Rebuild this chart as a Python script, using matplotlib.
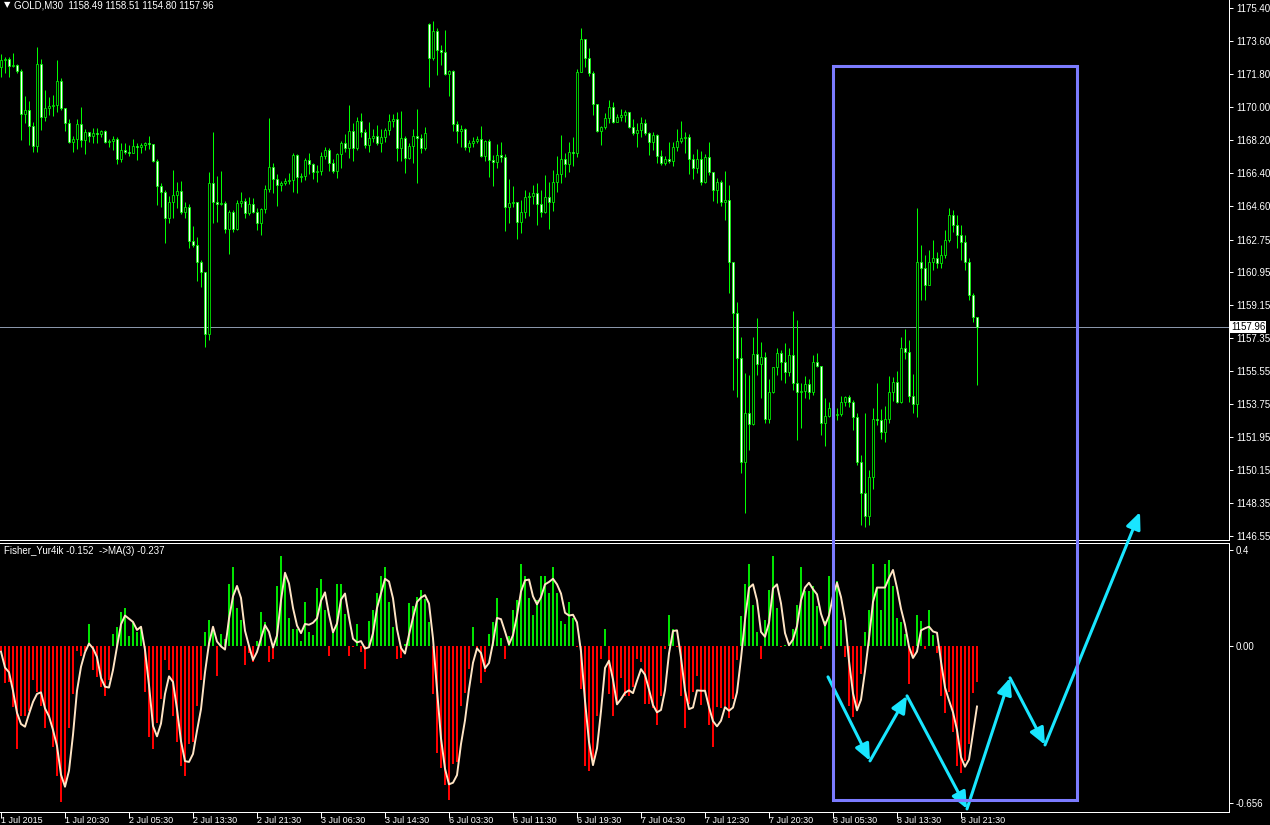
import matplotlib
matplotlib.use('Agg')
import matplotlib.pyplot as plt
from matplotlib.patches import Rectangle
import numpy as np
import pandas as pd

# GOLD M30 candles, 1 Jul 2015 .. 8 Jul 2015 (one value per bar)
closes = [
    1172.56, 1172.62, 1172.23, 1172.29, 1171.96, 1169.61, 1169.83, 1168.96, 1167.86, 1172.34,
    1169.45, 1169.94, 1170.05, 1170.10, 1171.41, 1169.94, 1169.12, 1168.08, 1168.25, 1169.06,
    1168.19, 1168.63, 1168.41, 1168.57, 1168.52, 1168.68, 1168.08, 1168.14, 1168.25, 1167.15,
    1167.64, 1167.53, 1167.48, 1167.86, 1167.81, 1167.92, 1168.03, 1167.97, 1167.04, 1165.68,
    1165.35, 1163.93, 1164.80, 1165.19, 1165.40, 1164.26, 1164.53, 1162.67, 1162.45, 1161.52,
    1160.98, 1157.59, 1165.84, 1164.80, 1164.69, 1164.75, 1163.33, 1164.26, 1163.33, 1164.75,
    1164.86, 1164.20, 1164.69, 1164.26, 1163.66, 1164.42, 1165.51, 1166.72, 1166.06, 1165.73,
    1165.84, 1165.95, 1166.00, 1167.37, 1166.17, 1166.22, 1167.10, 1166.88, 1166.44, 1166.50,
    1167.32, 1167.64, 1166.93, 1166.50, 1167.43, 1168.03, 1167.75, 1168.68, 1167.75, 1169.23,
    1168.63, 1167.92, 1168.30, 1168.41, 1168.03, 1168.35, 1168.74, 1169.23, 1169.34, 1167.75,
    1168.30, 1167.21, 1167.86, 1168.41, 1168.30, 1167.75, 1168.57, 1172.67, 1174.15, 1173.11,
    1173.00, 1171.80, 1171.96, 1169.06, 1168.68, 1168.79, 1167.81, 1168.03, 1168.14, 1168.25,
    1167.32, 1168.14, 1167.10, 1166.99, 1167.37, 1167.26, 1164.53, 1164.75, 1164.80, 1163.71,
    1164.26, 1165.08, 1165.13, 1165.29, 1164.69, 1164.26, 1165.08, 1164.80, 1165.90, 1166.33,
    1167.15, 1166.88, 1167.53, 1167.48, 1171.91, 1173.71, 1172.67, 1171.85, 1170.16, 1168.68,
    1168.90, 1169.39, 1169.99, 1169.17, 1169.45, 1169.56, 1169.72, 1168.90, 1168.57, 1168.74,
    1169.12, 1168.57, 1168.08, 1168.46, 1167.32, 1166.93, 1167.15, 1167.04, 1167.81, 1168.14,
    1168.30, 1168.35, 1167.15, 1166.66, 1167.15, 1165.90, 1167.26, 1166.44, 1165.46, 1165.90,
    1164.80, 1164.91, 1161.52, 1158.74, 1156.28, 1150.60, 1153.27, 1152.67, 1156.50, 1155.95,
    1156.33, 1152.95, 1154.42, 1155.79, 1156.55, 1156.06, 1155.51, 1156.44, 1154.91, 1154.42,
    1154.48, 1154.86, 1154.42, 1156.06, 1155.84, 1152.73, 1153.11, 1153.55, 1153.16, 1153.22,
    1153.88, 1154.15, 1153.88, 1153.06, 1150.60, 1148.90, 1147.65, 1149.78, 1152.95, 1152.89,
    1152.24, 1152.95, 1154.42, 1154.97, 1153.88, 1156.83, 1156.61, 1154.20, 1153.77, 1161.52,
    1161.20, 1160.27, 1161.52, 1161.74, 1161.47, 1161.91, 1162.73, 1164.09, 1163.55, 1163.00,
    1162.62, 1161.52, 1159.72, 1158.49, 1157.96]

highs = [
    1172.89, 1172.73, 1172.73, 1172.94, 1172.34, 1172.07, 1170.59, 1170.32, 1169.17, 1173.27,
    1172.62, 1170.92, 1170.54, 1170.65, 1172.56, 1171.58, 1169.94, 1169.34, 1168.41, 1169.34,
    1169.99, 1168.79, 1168.63, 1168.85, 1168.85, 1168.74, 1168.74, 1168.25, 1168.41, 1168.35,
    1168.03, 1168.03, 1167.92, 1168.25, 1168.03, 1168.03, 1168.08, 1168.41, 1167.92, 1167.15,
    1165.84, 1165.46, 1165.13, 1166.55, 1165.90, 1165.95, 1164.80, 1164.69, 1163.49, 1162.89,
    1161.63, 1160.92, 1166.44, 1168.63, 1166.22, 1166.50, 1164.86, 1164.37, 1164.37, 1164.91,
    1165.35, 1165.02, 1165.08, 1165.02, 1164.48, 1164.48, 1165.73, 1169.39, 1166.93, 1166.33,
    1165.95, 1166.11, 1166.39, 1167.48, 1167.43, 1166.39, 1167.21, 1167.48, 1166.93, 1166.82,
    1167.53, 1167.81, 1167.75, 1167.15, 1167.48, 1168.14, 1168.52, 1170.10, 1169.12, 1169.45,
    1169.67, 1168.79, 1169.17, 1168.79, 1169.01, 1168.79, 1168.85, 1169.61, 1169.61, 1169.72,
    1169.78, 1168.41, 1168.03, 1168.79, 1169.88, 1168.52, 1168.90, 1174.58, 1174.69, 1174.31,
    1173.38, 1174.20, 1172.01, 1172.01, 1169.23, 1169.01, 1168.85, 1168.19, 1168.35, 1168.41,
    1168.96, 1168.19, 1168.25, 1167.37, 1167.97, 1168.08, 1167.43, 1166.06, 1165.68, 1164.80,
    1164.91, 1165.46, 1165.35, 1165.73, 1165.84, 1165.46, 1166.28, 1165.90, 1166.55, 1167.32,
    1168.46, 1167.48, 1168.08, 1168.35, 1172.07, 1174.31, 1173.71, 1173.22, 1171.96, 1170.16,
    1168.96, 1169.67, 1170.38, 1170.27, 1169.61, 1169.88, 1169.83, 1169.34, 1169.34, 1169.12,
    1169.45, 1169.34, 1168.63, 1168.63, 1168.52, 1167.64, 1167.32, 1168.08, 1168.08, 1168.79,
    1169.23, 1168.63, 1168.52, 1167.43, 1167.70, 1167.59, 1167.43, 1168.08, 1166.44, 1166.11,
    1166.00, 1166.50, 1165.73, 1161.52, 1159.34, 1157.43, 1155.46, 1155.35, 1157.43, 1158.46,
    1157.15, 1156.61, 1155.13, 1155.79, 1156.83, 1156.72, 1157.10, 1156.83, 1158.85, 1158.36,
    1154.91, 1155.30, 1155.13, 1156.44, 1156.55, 1155.84, 1154.09, 1153.88, 1153.60, 1153.55,
    1154.20, 1154.20, 1154.26, 1153.98, 1153.27, 1150.98, 1153.27, 1150.16, 1153.55, 1154.91,
    1153.49, 1153.66, 1155.30, 1155.24, 1155.57, 1157.43, 1157.86, 1157.26, 1155.40, 1164.48,
    1162.45, 1161.91, 1162.18, 1162.73, 1162.07, 1162.45, 1163.27, 1164.48, 1164.37, 1164.09,
    1163.55, 1163.00, 1161.74, 1159.85, 1158.51]

lows = [
    1171.63, 1171.85, 1171.63, 1172.18, 1171.85, 1168.19, 1169.12, 1167.92, 1167.53, 1167.53,
    1168.74, 1169.23, 1169.56, 1169.50, 1169.72, 1169.83, 1168.68, 1168.03, 1167.53, 1167.70,
    1167.81, 1167.43, 1168.08, 1168.03, 1168.03, 1168.35, 1168.03, 1167.81, 1167.64, 1166.88,
    1166.99, 1167.43, 1167.32, 1167.48, 1167.10, 1167.48, 1167.64, 1167.70, 1166.99, 1164.64,
    1164.53, 1162.56, 1163.66, 1163.93, 1164.48, 1164.15, 1163.93, 1162.29, 1162.34, 1160.49,
    1160.16, 1156.88, 1157.26, 1163.66, 1163.71, 1164.64, 1163.11, 1161.96, 1163.16, 1163.27,
    1164.53, 1163.93, 1164.09, 1164.20, 1163.27, 1163.00, 1164.20, 1165.35, 1165.29, 1164.58,
    1165.40, 1165.73, 1165.79, 1165.35, 1165.29, 1165.90, 1166.00, 1166.33, 1166.06, 1165.90,
    1166.28, 1167.15, 1166.50, 1166.39, 1166.11, 1166.66, 1167.53, 1167.21, 1167.04, 1167.64,
    1168.35, 1167.75, 1167.53, 1168.08, 1167.92, 1167.53, 1168.08, 1168.46, 1168.90, 1167.04,
    1167.04, 1166.39, 1167.15, 1166.93, 1165.84, 1167.48, 1167.64, 1171.09, 1172.56, 1171.74,
    1172.29, 1171.74, 1170.59, 1168.68, 1168.03, 1167.81, 1167.64, 1167.53, 1167.81, 1168.03,
    1167.26, 1167.04, 1166.17, 1165.68, 1166.66, 1166.99, 1163.22, 1163.66, 1164.53, 1162.78,
    1163.11, 1163.93, 1164.04, 1164.69, 1163.55, 1163.98, 1164.20, 1163.33, 1164.31, 1165.35,
    1165.84, 1166.17, 1166.44, 1166.77, 1167.26, 1171.91, 1172.18, 1171.69, 1169.56, 1168.63,
    1167.92, 1168.79, 1169.12, 1169.12, 1169.23, 1169.23, 1169.17, 1168.85, 1168.46, 1167.81,
    1168.35, 1168.46, 1167.37, 1167.64, 1166.93, 1166.82, 1166.82, 1166.93, 1166.77, 1167.59,
    1168.03, 1167.48, 1166.33, 1166.06, 1166.39, 1165.73, 1165.84, 1166.28, 1164.86, 1164.75,
    1164.58, 1163.82, 1159.83, 1154.53, 1154.15, 1149.99, 1147.81, 1151.25, 1152.62, 1155.35,
    1154.09, 1152.73, 1152.73, 1154.37, 1155.35, 1155.08, 1154.91, 1155.30, 1154.53, 1151.80,
    1152.45, 1154.09, 1154.04, 1154.26, 1155.79, 1152.07, 1151.47, 1153.06, 1153.16, 1152.89,
    1153.11, 1153.66, 1153.60, 1152.34, 1150.43, 1147.15, 1147.05, 1147.15, 1149.12, 1152.62,
    1151.85, 1151.69, 1152.73, 1153.93, 1153.82, 1153.82, 1156.22, 1153.88, 1153.27, 1153.06,
    1159.45, 1159.45, 1160.81, 1161.09, 1161.20, 1161.20, 1161.74, 1162.62, 1163.16, 1162.29,
    1161.63, 1161.09, 1159.45, 1158.24, 1154.80]

first_open = 1172.18
gap_opens = {107: 1174.53}   # Monday open after the weekend gap

# Fisher_Yur4ik histogram
fisher = [
    -0.024, -0.156, -0.149, -0.256, -0.43, -0.29, -0.29, -0.27, -0.14, -0.19,
    -0.25, -0.34, -0.29, -0.42, -0.54, -0.65, -0.57, -0.34, -0.20, -0.02,
    -0.04, -0.02, 0.09, -0.10, -0.13, -0.17, -0.21, -0.14, 0.05, 0.08,
    0.14, 0.16, 0.04, 0.10, 0.06, 0.08, -0.19, -0.38, -0.43, -0.32,
    -0.22, -0.06, -0.10, -0.29, -0.40, -0.50, -0.54, -0.41, -0.40, -0.25,
    -0.14, 0.06, 0.11, 0.07, -0.125, 0.05, 0.03, 0.26, 0.33, 0.16,
    0.11, -0.08, -0.03, -0.065, 0.02, 0.14, 0.10, -0.065, -0.055, 0.25,
    0.375, 0.29, 0.115, 0.07, 0.07, 0.02, 0.185, 0.06, 0.045, 0.24,
    0.28, 0.15, -0.04, 0.06, 0.26, 0.26, 0.135, -0.04, -0.005, 0.09,
    -0.025, -0.097, 0.105, 0.15, 0.22, 0.29, 0.33, 0.185, 0.08, -0.055,
    -0.05, 0.01, 0.18, 0.165, 0.205, 0.235, 0.195, 0.10, -0.20, -0.445,
    -0.51, -0.58, -0.64, -0.49, -0.485, -0.25, -0.195, -0.095, 0.08, -0.015,
    -0.153, -0.11, 0.05, 0.10, 0.20, 0.035, -0.055, 0.04, 0.15, 0.19,
    0.34, 0.29, 0.20, 0.13, 0.19, 0.29, 0.29, 0.22, 0.33, 0.22,
    0.105, 0.09, 0.185, 0.115, -0.005, -0.18, -0.50, -0.52, -0.47, -0.29,
    -0.055, 0.07, -0.20, -0.29, -0.24, -0.135, -0.21, -0.21, -0.17, -0.055,
    -0.065, -0.24, -0.24, -0.26, -0.33, -0.21, -0.014, 0.13, 0.07, -0.005,
    -0.21, -0.34, -0.24, -0.19, -0.125, -0.245, -0.19, -0.33, -0.42, -0.255,
    -0.26, -0.25, -0.30, -0.22, -0.06, 0.125, 0.26, 0.34, 0.17, 0.06,
    -0.055, 0.11, 0.235, 0.375, 0.16, -0.003, 0.004, 0.008, 0.07, 0.17,
    0.33, 0.23, 0.23, 0.25, 0.165, -0.014, 0.105, 0.29, 0.23, 0.27,
    0.11, -0.047, -0.25, -0.295, -0.26, -0.117, 0.06, 0.15, 0.34, 0.24,
    0.15, 0.34, 0.36, 0.25, 0.115, 0.10, 0.05, -0.16, -0.04, 0.13,
    0.105, -0.014, 0.15, 0.045, -0.03, -0.21, -0.28, -0.19, -0.36, -0.50,
    -0.53, -0.48, -0.41, -0.195, -0.152]

price_ticks = [1175.40, 1173.60, 1171.80, 1170.00, 1168.20, 1166.40, 1164.60, 1162.75, 1160.95,
               1159.15, 1157.35, 1155.55, 1153.75, 1151.95, 1150.15, 1148.35, 1146.55]
fisher_ticks = [0.4, 0.0, -0.656]
fisher_tick_labels = ['0.4', '0.00', '-0.656']
time_labels = ['1 Jul 2015', '1 Jul 20:30', '2 Jul 05:30', '2 Jul 13:30', '2 Jul 21:30',
               '3 Jul 06:30', '3 Jul 14:30', '6 Jul 03:30', '6 Jul 11:30', '6 Jul 19:30',
               '7 Jul 04:30', '7 Jul 12:30', '7 Jul 20:30', '8 Jul 05:30', '8 Jul 13:30',
               '8 Jul 21:30']
last_price = 1157.96

# hand-drawn markup: box (bar, price top / fisher bottom) and zigzag (bar, fisher)
box_bars = (208, 269)
box_top_price = 1172.23
box_bottom_fisher = -0.642
zigzag = [(206.75, -0.129), (217.25, -0.479), (226.5, -0.208), (241.5, -0.679),
          (252.25, -0.133), (261.0, -0.4125), (284.75, 0.558)]

GREEN = '#00ff00'
HGREEN = '#00e400'
RED = '#ff0000'
CYAN = '#19e6ff'
BOX = '#7b7bff'
PX = 0.72  # one pixel in points at dpi 100

plt.rcParams['font.family'] = ['Liberation Sans', 'DejaVu Sans']
plt.rcParams['font.size'] = 7

fig = plt.figure(figsize=(12.7, 8.25), dpi=100, facecolor='black')
ax = fig.add_axes([0, 285 / 825, 1229 / 1270, 540 / 825])
axi = fig.add_axes([0, 13 / 825, 1229 / 1270, 269 / 825])
axi.set_zorder(2)

n = len(closes)
x = np.arange(n)
c = np.array(closes)
o = np.array([first_open] + closes[:-1])
for k, v in gap_opens.items():
    o[k] = v
hi = np.maximum(np.array(highs), np.maximum(o, c))
lo = np.minimum(np.array(lows), np.minimum(o, c))
up = c >= o

# ---- price window
ax.set_facecolor('black')
ax.set_xlim(-0.25, 307)
ax.set_ylim(1146.33, 1175.84)
ax.vlines(x, lo, hi, color=GREEN, lw=PX, zorder=2)
ax.bar(x, np.abs(c - o), bottom=np.minimum(o, c), width=0.72,
       color=np.where(up, 'black', 'white'), edgecolor=GREEN, linewidth=0.55, zorder=3)
ax.axhline(last_price, color='#8a96aa', lw=PX, zorder=1)

for side in ['left', 'top']:
    ax.spines[side].set_visible(False)
for side in ['right', 'bottom']:
    ax.spines[side].set_color('white')
    ax.spines[side].set_linewidth(PX)
ax.set_xticks([])
ax.yaxis.tick_right()
ax.set_yticks(price_ticks)
ax.set_yticklabels([f'{v:.2f}' for v in price_ticks])
ax.tick_params(axis='y', colors='white', length=3, width=PX, pad=2, labelsize=7)
ax.text(1.0015, last_price, f'{last_price:.2f}', transform=ax.get_yaxis_transform(),
        ha='left', va='center', color='black', fontsize=7, zorder=10, clip_on=False,
        bbox=dict(facecolor='white', edgecolor='none', pad=0.8))

fig.text(4 / 1270, 1 - 5 / 825, '\u25bc', color='white', fontsize=6, va='center',
         family=['DejaVu Sans'])
fig.text(14 / 1270, 1 - 5 / 825, 'GOLD,M30  1158.49 1158.51 1154.80 1157.96',
         color='white', fontsize=7, va='center')

# ---- indicator window
axi.set_facecolor('black')
axi.set_xlim(-0.25, 307)
axi.set_ylim(-0.692, 0.429)
f = np.array(fisher)
axi.bar(x, f, width=0.7, color=np.where(f >= 0, HGREEN, RED), linewidth=0)
ma = pd.Series(f).rolling(3, min_periods=1).mean()
axi.plot(x, ma, color='#ffe4c4', lw=1.4, zorder=4)

axi.spines['left'].set_visible(False)
for side in ['right', 'bottom', 'top']:
    axi.spines[side].set_color('white')
    axi.spines[side].set_linewidth(PX)
axi.yaxis.tick_right()
axi.set_yticks(fisher_ticks)
axi.set_yticklabels(fisher_tick_labels)
axi.tick_params(axis='y', colors='white', length=3, width=PX, pad=2, labelsize=7)
axi.set_xticks(np.arange(len(time_labels)) * 16)
axi.set_xticklabels(time_labels)
axi.tick_params(axis='x', colors='white', length=4, width=PX, pad=-1, labelsize=6.5)
for lbl in axi.get_xticklabels():
    lbl.set_ha('left')
fig.text(4 / 1270, 1 - 551 / 825, 'Fisher_Yur4ik -0.152  ->MA(3) -0.237',
         color='white', fontsize=7, va='center')

# ---- markup
for p0, p1 in zip(zigzag[:-1], zigzag[1:]):
    axi.annotate('', xy=p1, xytext=p0, annotation_clip=False,
                 arrowprops=dict(arrowstyle='-|>,head_length=0.5,head_width=0.22',
                                 color=CYAN, lw=2.2, mutation_scale=20,
                                 shrinkA=0, shrinkB=0))

inv = fig.transFigure.inverted()
tl = inv.transform(ax.transData.transform((box_bars[0], box_top_price)))
br = inv.transform(axi.transData.transform((box_bars[1], box_bottom_fisher)))
fig.add_artist(Rectangle((tl[0], br[1]), br[0] - tl[0], tl[1] - br[1],
                         transform=fig.transFigure, fill=False, edgecolor=BOX,
                         lw=2.2, zorder=5))

fig.savefig('out.png', dpi=100, facecolor='black')
